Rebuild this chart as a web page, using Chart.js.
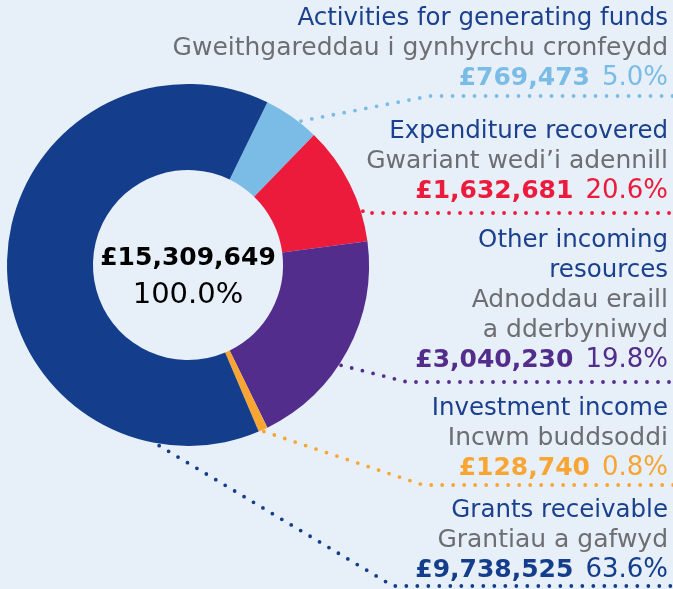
<!DOCTYPE html>
<html lang="en">
<head>
    <meta charset="UTF-8">
    <title>Income 15,309,649</title>
    <script src="https://cdn.jsdelivr.net/npm/chart.js@4.4.0/dist/chart.umd.min.js"></script>
    <style>
        html, body { margin: 0; padding: 0; background: #e7eff9; }
        #wrap { width: 673px; height: 589px; position: relative; }
    </style>
</head>
<body>
<div id="wrap">
    <canvas id="myChart"></canvas>
</div>
<script>
    // data
    var categories = ['Activities for generating funds', 'Expenditure recovered', 'Other incoming resources', 'Investment income', 'Grants receivable'];
    var titleLines = [['Activities for generating funds'], ['Expenditure recovered'], ['Other incoming', 'resources'], ['Investment income'], ['Grants receivable']];
    var welshLines = [['Gweithgareddau i gynhyrchu cronfeydd'], ['Gwariant wedi\u2019i adennill'], ['Adnoddau eraill', 'a dderbyniwyd'], ['Incwm buddsoddi'], ['Grantiau a gafwyd']];
    var values = [769473, 1632681, 3040230, 128740, 9738525];
    var pctLabels = ['5.0%', '20.6%', '19.8%', '0.8%', '63.6%'];
    var totalLabel = '\u00a315,309,649';
    var totalPct = '100.0%';
    var colors = ['#7bbce7', '#ec1b3c', '#532d8c', '#f8a534', '#143e8b'];

    var FONT = '"DejaVu Sans", sans-serif';

    // where each label block sits and how its dotted leader runs
    var layout = [
        {y: 25, lead: 96, frac: 0.67, elbow: 430},
        {y: 138, lead: 213, frac: 0.75, elbow: null},
        {y: 247, lead: 382, frac: 0.57, elbow: 407},
        {y: 415, lead: 485, frac: 0.5, elbow: 423},
        {y: 517, lead: 586, frac: 0.14, elbow: 393}
    ];

    function money(v) {
        return '\u00a3' + v.toLocaleString('en-GB');
    }

    var labelsPlugin = {
        id: 'sideLabels',
        afterDraw: function (chart) {
            var c = chart.ctx;
            var meta = chart.getDatasetMeta(0);
            var right = 668;
            var lh = 30;
            c.save();
            c.textAlign = 'right';
            c.textBaseline = 'alphabetic';
            meta.data.forEach(function (arc, i) {
                var L = layout[i];
                // leader line
                var a = arc.startAngle + L.frac * (arc.endAngle - arc.startAngle);
                var r = arc.outerRadius + 2;
                var sx = arc.x + Math.cos(a) * r;
                var sy = arc.y + Math.sin(a) * r;
                c.beginPath();
                c.setLineDash([0, 11]);
                c.lineCap = 'round';
                c.lineWidth = 3.8;
                c.strokeStyle = colors[i];
                c.moveTo(sx, sy);
                if (L.elbow !== null) {
                    c.lineTo(L.elbow, L.lead);
                } else {
                    c.lineTo(sx, L.lead);
                }
                c.lineTo(675, L.lead);
                c.stroke();
                c.setLineDash([]);

                var y = L.y;
                c.font = '24.5px ' + FONT;
                c.fillStyle = '#1a408e';
                titleLines[i].forEach(function (t) {
                    c.fillText(t, right, y);
                    y += lh;
                });
                c.font = '25px ' + FONT;
                c.fillStyle = '#6d6e71';
                welshLines[i].forEach(function (t) {
                    c.fillText(t, right, y);
                    y += lh;
                });
                c.fillStyle = colors[i];
                c.font = '26px ' + FONT;
                var p = pctLabels[i];
                c.fillText(p, right, y);
                var pw = c.measureText(p).width;
                c.font = 'bold 25px ' + FONT;
                c.fillText(money(values[i]), right - pw - 12, y);
            });

            // centre total
            var a0 = meta.data[0];
            c.textAlign = 'center';
            c.fillStyle = '#000';
            c.font = 'bold 25px ' + FONT;
            c.fillText(totalLabel, a0.x, a0.y);
            c.font = '29px ' + FONT;
            c.fillText(totalPct, a0.x, a0.y + 38);
            c.restore();
        }
    };

    var ctx = document.getElementById('myChart').getContext('2d');
    var chart = new Chart(ctx, {
        type: 'doughnut',
        data: {
            labels: categories,
            datasets: [{
                data: values,
                backgroundColor: colors,
                borderWidth: 0
            }]
        },
        options: {
            responsive: true,
            maintainAspectRatio: false,
            animation: false,
            cutout: '52.5%',
            rotation: 26,
            layout: {
                padding: {left: 7, top: 84, right: 304, bottom: 143}
            },
            plugins: {
                legend: {display: false},
                tooltip: {enabled: false}
            }
        },
        plugins: [labelsPlugin]
    });
</script>
</body>
</html>
